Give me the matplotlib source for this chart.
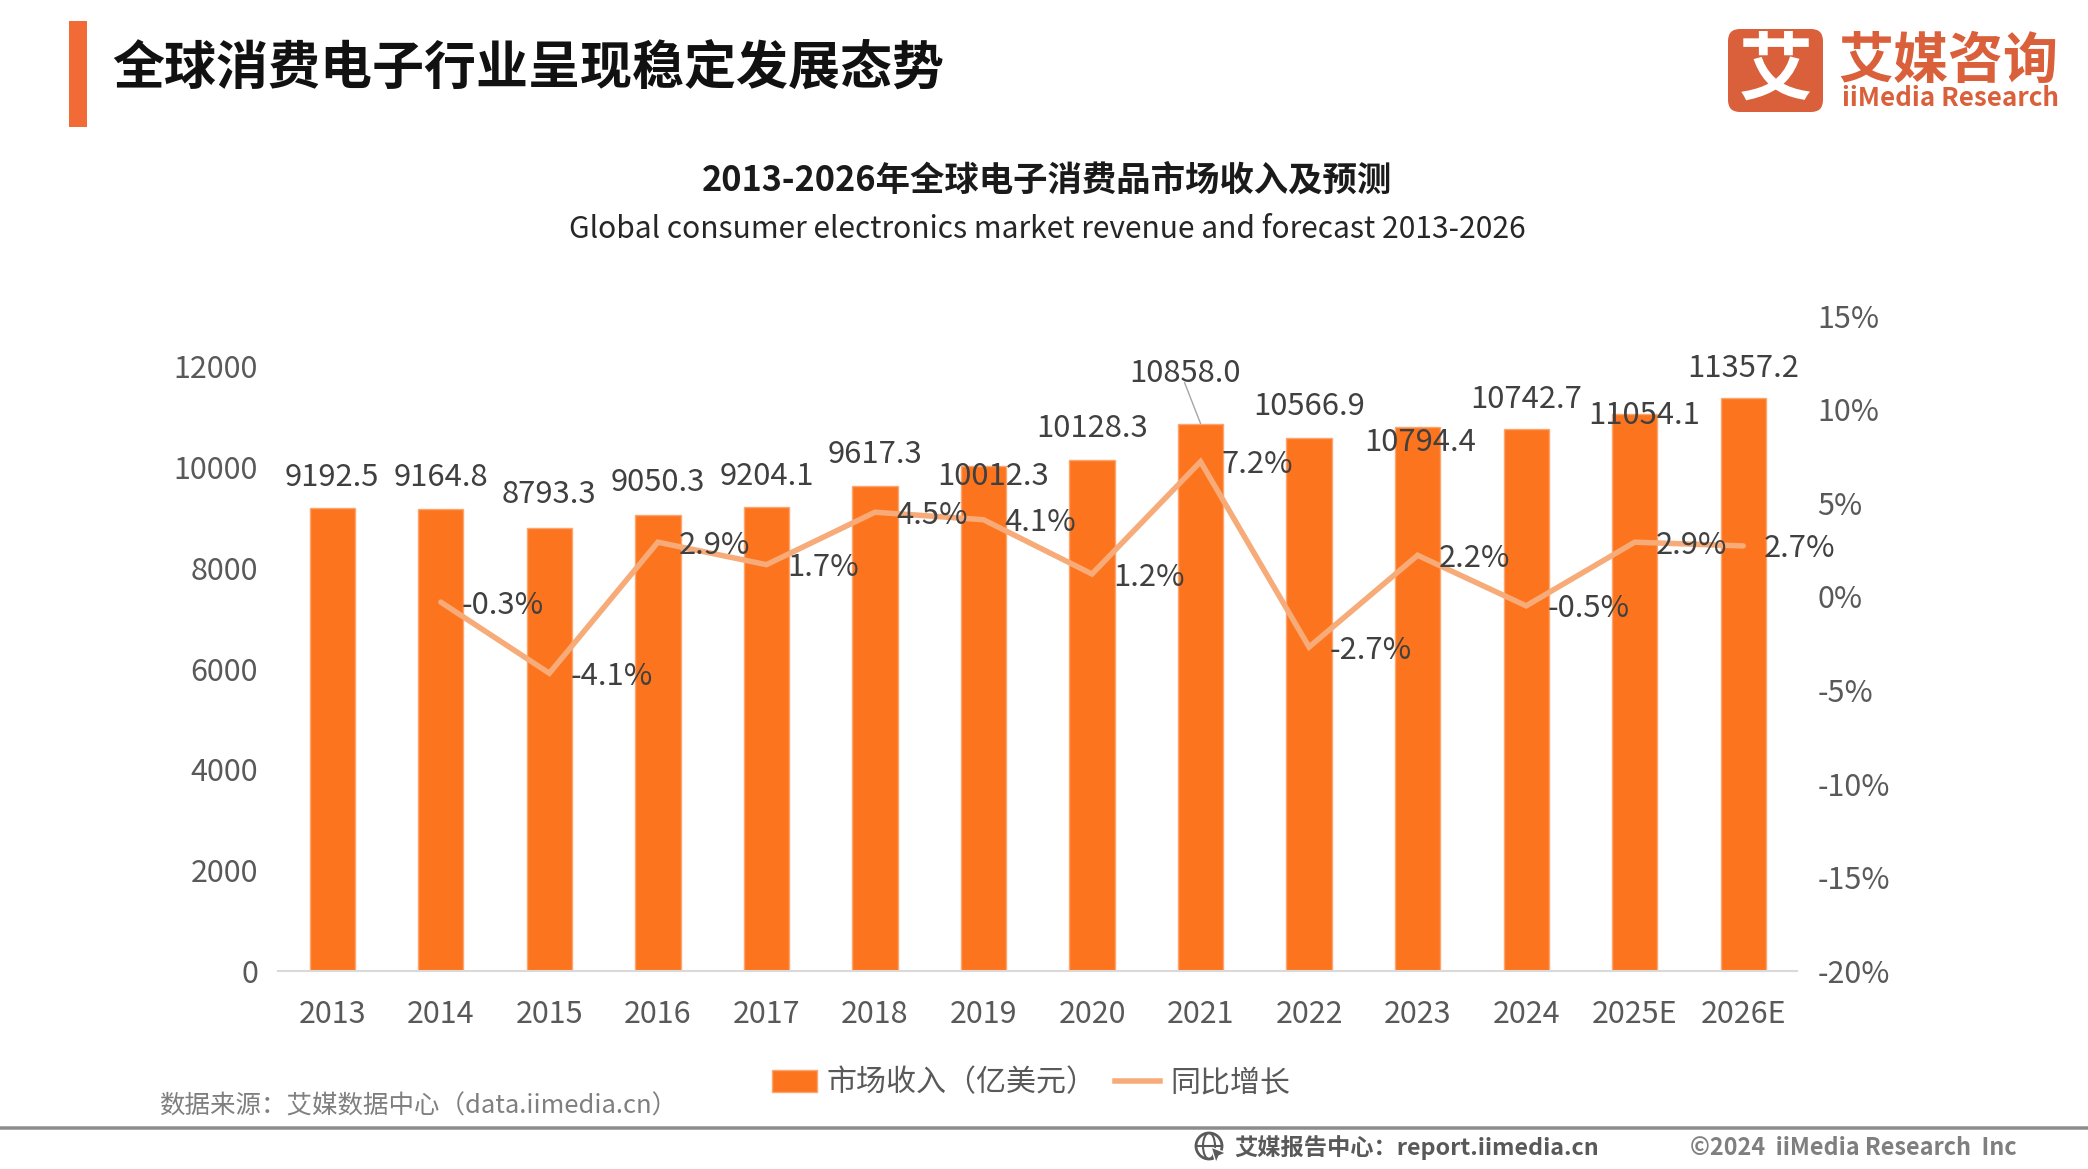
import matplotlib
matplotlib.use("Agg")
import matplotlib.pyplot as plt
from matplotlib.patches import Rectangle, FancyBboxPatch, Circle, Ellipse, Polygon
from matplotlib.lines import Line2D

plt.rcParams['font.family'] = ['Noto Sans CJK SC', 'DejaVu Sans']

years = ['2013', '2014', '2015', '2016', '2017', '2018', '2019', '2020', '2021', '2022', '2023', '2024', '2025E', '2026E']
revenue = [9192.5, 9164.8, 8793.3, 9050.3, 9204.1, 9617.3, 10012.3, 10128.3, 10858.0, 10566.9, 10794.4, 10742.7, 11054.1, 11357.2]
growth = [None, -0.3, -4.1, 2.9, 1.7, 4.5, 4.1, 1.2, 7.2, -2.7, 2.2, -0.5, 2.9, 2.7]
left_ticks = [0, 2000, 4000, 6000, 8000, 10000, 12000]
right_ticks = [-20, -15, -10, -5, 0, 5, 10, 15]

# label offsets (pixels, from the bar top) chosen to mirror the hand placed labels
rev_dx = [0, 0, 0, 0, 0, 0, 10, 0, -16, 0, 3, 0, 9, 0]
rev_dy = [30, 31, 33, 32, 30, 32, -10, 32, 50, 32, -16, 30, -2, 30]

W, H = 2088, 1169
DPI = 100
def pt(px):
    return px * 72 / DPI

fig = plt.figure(figsize=(W / DPI, H / DPI), dpi=DPI, facecolor='white')
L, R, T, B = 278, 1797.5, 315.6, 971
ax = fig.add_axes([L / W, 1 - B / H, (R - L) / W, (B - T) / H])
x = list(range(len(years)))
BAR = '#FD741E'
LINE = '#F6AB78'
TXT = '#404040'
TICK = '#595959'

ax.bar(x, revenue, width=0.417, color=BAR, edgecolor='#FBA66F', linewidth=1, zorder=2)
ax.set_xlim(-0.5, len(years) - 0.5)
ax.set_ylim(0, 13000)
ax.set_yticks(left_ticks)
ax.set_xticks(x)
ax.set_xticklabels(years)
ax.tick_params(axis='both', length=0, labelsize=pt(30.5), labelcolor=TICK)
ax.tick_params(axis='y', pad=pt(20))
ax.tick_params(axis='x', pad=pt(28))
for s in ['top', 'left', 'right']:
    ax.spines[s].set_visible(False)
ax.spines['bottom'].set_color('#D9D9D9')
ax.spines['bottom'].set_linewidth(1.5)

ax2 = ax.twinx()
ax2.set_ylim(-20, 15)
ax2.set_yticks(right_ticks)
ax2.set_yticklabels([f'{v}%' for v in right_ticks])
ax2.tick_params(axis='y', length=0, labelsize=pt(30.5), labelcolor=TICK, pad=pt(20))
for s in ['top', 'left', 'right', 'bottom']:
    ax2.spines[s].set_visible(False)
gx = [i for i, g in zip(x, growth) if g is not None]
gy = [g for g in growth if g is not None]
ax2.plot(gx, gy, color=LINE, linewidth=pt(5.5), solid_joinstyle='miter', solid_capstyle='round', zorder=3)

for i, v in enumerate(revenue):
    ax.annotate(f'{v:.1f}', xy=(i, v), xytext=(rev_dx[i], rev_dy[i]), textcoords='offset pixels',
                ha='center', va='center', fontsize=pt(31), color=TXT, zorder=6, annotation_clip=False)
for i, g in zip(gx, gy):
    ax2.annotate(f'{g:.1f}%', xy=(i, g), xytext=(21, -3), textcoords='offset pixels',
                 ha='left', va='center', fontsize=pt(31), color=TXT, zorder=6, annotation_clip=False)
ax.annotate('', xy=(8, revenue[8]), xytext=(-16, 41), textcoords='offset pixels',
            arrowprops=dict(arrowstyle='-', color='#A6A6A6', lw=1, shrinkA=0, shrinkB=0), zorder=6)

handles = [Rectangle((0, 0), 1, 1, facecolor=BAR, edgecolor='#FBA66F', linewidth=1),
           Line2D([0], [0], color=LINE, linewidth=pt(5.5))]
ax.legend(handles, ['市场收入（亿美元）', '同比增长'], loc='center', frameon=False,
          bbox_to_anchor=(1031 / W, 1 - 1083 / H), bbox_transform=fig.transFigure, ncol=2,
          fontsize=pt(30), labelcolor=TICK, handlelength=1.5, handleheight=0.75,
          handletextpad=0.35, columnspacing=0.6, borderpad=0, labelspacing=0)

# page furniture in pixel coordinates
ov = fig.add_axes([0, 0, 1, 1], zorder=10)
ov.set_xlim(0, W)
ov.set_ylim(H, 0)
ov.axis('off')
ov.patch.set_alpha(0)
ov.add_patch(Rectangle((69, 21), 18, 106, facecolor='#F26A35', edgecolor='none'))
ov.text(112, 69, '全球消费电子行业呈现稳定发展态势', fontsize=pt(52), fontweight='bold', color='#111111', ha='left', va='center')
ov.text(1047, 180, '2013-2026年全球电子消费品市场收入及预测', fontsize=pt(34.4), fontweight='bold', color='#1A1A1A', ha='center', va='center')
ov.text(1047, 230, 'Global consumer electronics market revenue and forecast 2013-2026', fontsize=pt(30), color='#262626', ha='center', va='center')

LOGO = '#D9603B'
ov.add_patch(FancyBboxPatch((1738, 39), 75, 63, boxstyle='round,pad=10,rounding_size=12', facecolor=LOGO, edgecolor='none'))
ov.text(1775.5, 72, '艾', fontsize=pt(74), fontweight='bold', color='white', ha='center', va='center')
ov.text(1948, 62, '艾媒咨询', fontsize=pt(55), fontweight='bold', color=LOGO, ha='center', va='center')
ov.text(1950, 98, 'iiMedia Research', fontsize=pt(26), fontweight='bold', color=LOGO, ha='center', va='center')

ov.text(159, 1107, '数据来源：艾媒数据中心（data.iimedia.cn）', fontsize=pt(25.5), color='#7F7F7F', ha='left', va='center')
ov.plot([0, W], [1128, 1128], color='#8C8C8C', lw=pt(3.5), solid_capstyle='butt')

# footer globe icon
ic = '#595959'
ov.add_patch(Circle((1209, 1146), 13, facecolor='none', edgecolor=ic, lw=2))
ov.add_patch(Ellipse((1209, 1146), 12, 26, facecolor='none', edgecolor=ic, lw=1.5))
ov.plot([1196, 1222], [1146, 1146], color=ic, lw=1.5)
ov.add_patch(Polygon([[1211, 1147], [1226, 1153], [1219, 1156], [1216, 1163]], facecolor=ic, edgecolor='white', lw=1))
ov.text(1234, 1148, '艾媒报告中心：report.iimedia.cn', fontsize=pt(23.3), fontweight='bold', color='#595959', ha='left', va='center')
ov.text(1690, 1148, '©2024  iiMedia Research  Inc', fontsize=pt(23.4), fontweight='bold', color='#7F7F7F', ha='left', va='center')

fig.savefig('out.png', dpi=DPI, facecolor='white')
